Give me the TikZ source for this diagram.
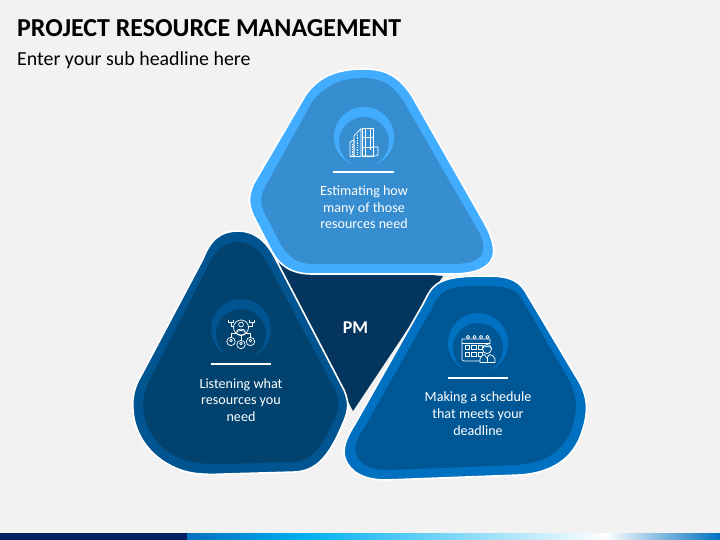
\documentclass[tikz,border=0pt]{standalone}
\usepackage{fontspec}
\setmainfont{Carlito}
\definecolor{pagebg}{HTML}{F2F2F2}
\definecolor{topout}{HTML}{42ADFF}
\definecolor{topin}{HTML}{368DD0}
\definecolor{leftout}{HTML}{005490}
\definecolor{leftin}{HTML}{02426F}
\definecolor{rightout}{HTML}{0070C0}
\definecolor{rightin}{HTML}{005796}
\definecolor{pmfill}{HTML}{03355E}
\definecolor{bardark}{HTML}{002060}
\definecolor{barmid}{HTML}{0070C0}
\definecolor{barsky}{HTML}{00B0F0}
\tikzset{
  caption/.style={text=white,align=center,font=\fontsize{14.1}{16.8}\selectfont,inner sep=0pt},
  iconline/.style={draw=white,line width=0.7pt,line join=round},
  rule/.style={draw=white,line width=1.2pt},
}
\begin{document}
\begin{tikzpicture}[x=1pt,y=-1pt]
\useasboundingbox (0,0) rectangle (720,540);
\fill[pagebg] (0,0) rectangle (720,540);
% bottom bar
\fill[bardark] (0,533) rectangle (187,540);
\shade[left color=barmid,right color=barsky] (187,533) rectangle (305,540);
\shade[left color=barsky,right color=white] (305,533) rectangle (605,540);
\shade[left color=white,right color=barmid] (605,533) rectangle (720,540);
% title
\node[anchor=base west,inner sep=0pt,font=\fontsize{25.9}{30}\selectfont\bfseries,text=black] (title) at (17,37) {PROJECT RESOURCE MANAGEMENT};
\node[anchor=base west,inner sep=0pt,font=\fontsize{19.9}{24}\selectfont,text=black] (subtitle) at (17,66) {Enter your sub headline here};
% centre triangle
\fill[pmfill] (278,262) -- (443,276) -- (353,411) -- cycle;
\node[inner sep=0pt,text=white,font=\fontsize{18}{21}\selectfont\bfseries] (pm) at (355.5,328) {PM};
% top shape
\filldraw[draw=white,line width=1.6pt,fill=topout]
 (363,69) .. controls (338,69) and (318,76) .. (305,96) -- (254,183)
 .. controls (248,195) and (248,205) .. (254,217) -- (271,250)
 .. controls (280,267) and (293,274) .. (312,274) -- (452,274)
 .. controls (482,274) and (497,264) .. (493,245)
 .. controls (492,238) and (489,232) .. (485,224) -- (412,96)
 .. controls (398,75) and (385,69) .. (363,69) -- cycle;
\fill[topin]
 (363,78) .. controls (342,78) and (325,85) .. (312,102) -- (265,187)
 .. controls (260,196) and (260,205) .. (265,214) -- (280,243)
 .. controls (289,258) and (297,264) .. (315,264) -- (452,264)
 .. controls (475,264) and (486,258) .. (483,243)
 .. controls (482,238) and (479,232) .. (476,227) -- (404,102)
 .. controls (392,84) and (382,78) .. (363,78) -- cycle;
% left shape
\filldraw[draw=white,line width=1.6pt,fill=leftout]
 (238,231) .. controls (222,231) and (211,238) .. (203,259) -- (142,374)
 .. controls (134,387) and (132,398) .. (133,410)
 .. controls (134,430) and (146,456) .. (178,469)
 .. controls (190,474) and (205,475) .. (225,474) -- (295,472)
 .. controls (318,471) and (330,453) .. (341,428)
 .. controls (347,414) and (351,406) .. (344,390) -- (274,256)
 .. controls (264,238) and (252,231) .. (238,231) -- cycle;
\fill[leftin]
 (238,242) .. controls (226,242) and (217,248) .. (209,264) -- (150,379)
 .. controls (145,389) and (143,398) .. (143,408)
 .. controls (145,428) and (156,449) .. (182,459)
 .. controls (195,464) and (208,464) .. (225,464) -- (290,462)
 .. controls (310,462) and (320,450) .. (332,424)
 .. controls (339,410) and (341,404) .. (335,390) -- (268,264)
 .. controls (258,248) and (250,242) .. (238,242) -- cycle;
% right shape
\filldraw[draw=white,line width=1.6pt,fill=rightout]
 (486,276) .. controls (465,276) and (447,277) .. (437,284)
 .. controls (431,288) and (428,294) .. (423,304) -- (355,424)
 .. controls (346,438) and (342,449) .. (345,458)
 .. controls (350,473) and (365,480) .. (386,480) -- (520,475)
 .. controls (550,473) and (573,460) .. (582,432)
 .. controls (590,408) and (587,393) .. (575,375) -- (525,291)
 .. controls (517,279) and (507,276) .. (486,276) -- cycle;
\fill[rightin]
 (486,286) .. controls (468,286) and (452,286) .. (444,292)
 .. controls (438,296) and (435,302) .. (431,310) -- (364,428)
 .. controls (356,440) and (353,449) .. (357,456)
 .. controls (362,466) and (372,470) .. (388,470) -- (516,465)
 .. controls (545,463) and (563,452) .. (572,428)
 .. controls (578,408) and (577,396) .. (569,380) -- (520,296)
 .. controls (513,288) and (503,286) .. (486,286) -- cycle;
% badges
\fill[topout] (364,137) circle (30);
\fill[topin] (364,142) circle (25);
\fill[leftout] (241,329) circle (30);
\fill[leftin] (241,334) circle (25);
\fill[rightout] (478,343) circle (30);
\fill[rightin] (478,348) circle (25);
% rules
\draw[rule] (333,172) -- (394,172);
\draw[rule] (211,364) -- (271,364);
\draw[rule] (448,378) -- (508,378);
% captions
\node[caption] (captop) at (364,207.3) {Estimating how\\many of those\\resources need};
\node[caption] (capleft) at (241,400) {Listening what\\resources you\\need};
\node[caption] (capright) at (478,413.5) {Making a schedule\\that meets your\\deadline};
% building icon
\begin{scope}[iconline]
\draw (350,156) -- (350,142) -- (354,140) -- (354,156) -- cycle;
\draw (354,156) -- (354,136) -- (361,128.5) -- (361,156);
\draw (350,156) -- (361,156);
\draw (362,128) rectangle (373,156);
\draw (365,128) -- (365,156) (370,128) -- (370,150);
\draw (362,137) -- (373,137) (362,147) -- (373,147);
\draw (373,147) -- (378,147) -- (378,154) .. controls (378,156) and (376,156) .. (375,156) -- (362,156);
\draw[densely dotted] (357,135) -- (357,155) (352,144) -- (352,155);
\end{scope}
% network icon
\begin{scope}[iconline]
\draw (241,327.5) circle (7.5);
\draw (241,324.5) circle (2.4);
\draw (236.5,331) .. controls (238,328.5) and (244,328.5) .. (245.5,331);
\draw (241,333) ellipse (4.5 and 2.6);
\draw (241,335.6) -- (241,340);
\draw (231,341.5) circle (4.2) (241,344.5) circle (4.2) (250.5,341.5) circle (4.2);
\draw (231,340.5) circle (1.3) (241,343.5) circle (1.3) (250.5,340.5) circle (1.3);
\draw (231,337.3) -- (231,333) -- (236.5,333);
\draw (250.5,337.3) -- (250.5,333) -- (245.5,333);
\draw (234,326) -- (231,326) -- (231,322);
\draw (248,326) -- (252,326) -- (252,322);
\draw (228.5,319.5) -- (228.5,322.5) -- (233.5,322.5) -- (233.5,319.5);
\draw (249.5,319.5) -- (249.5,322.5) -- (254.5,322.5) -- (254.5,319.5);
\end{scope}
% calendar icon
\begin{scope}[iconline]
\draw (481,361) -- (464,361) .. controls (462.5,361) and (462,360.5) .. (462,359) -- (462,339) -- (490,339) -- (490,344);
\draw (462,343.5) -- (490,343.5);
\foreach \cx in {468,474.5,481,487.5} \draw (\cx,337) circle (1.6);
\foreach \cx in {465,471.5,478} {
  \draw (\cx,345.5) rectangle +(4.6,4.2);
  \draw (\cx,352.5) rectangle +(4.6,4.2);
}
\fill[rightin] (487,349) circle (4.5);
\draw (487,349) circle (4.5);
\draw (482.5,348) .. controls (484.5,346) and (489,346) .. (491.5,348);
\fill[rightin] (480,362.5) -- (480,359) .. controls (480,356) and (483,355.5) .. (484.5,354.5) -- (487,358) -- (489.5,354.5) .. controls (492,355.5) and (495,356) .. (495,359) -- (495,362.5) -- cycle;
\draw (480,362.5) -- (480,359) .. controls (480,356) and (483,355.5) .. (484.5,354.5) -- (487,358) -- (489.5,354.5) .. controls (492,355.5) and (495,356) .. (495,359) -- (495,362.5) -- cycle;
\draw (487,358) -- (487,362.5);
\end{scope}
\end{tikzpicture}
\end{document}
